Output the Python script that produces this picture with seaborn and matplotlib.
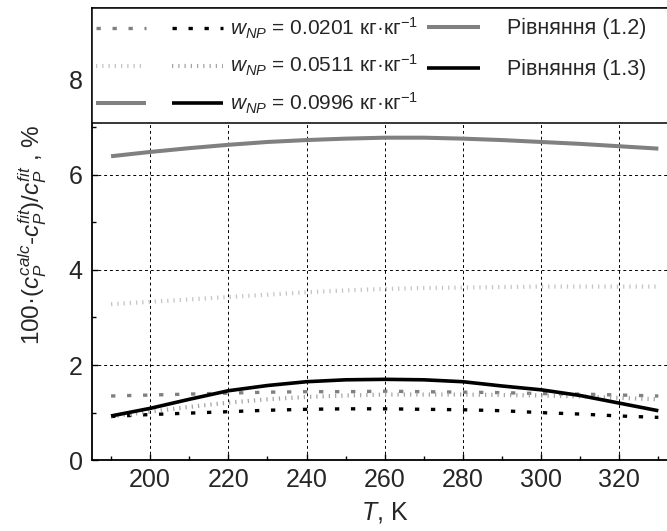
import matplotlib
matplotlib.use("Agg")
import matplotlib.pyplot as plt
import seaborn as sns
import pandas as pd
from matplotlib.lines import Line2D
from matplotlib.legend_handler import HandlerTuple
from matplotlib.ticker import MultipleLocator

# ---------------- data ----------------
T = [190, 200, 210, 220, 230, 240, 250, 260, 270, 280, 290, 300, 310, 320, 330]

# Equation (1.2) – grey curves
eq12_w0201 = [1.35, 1.37, 1.39, 1.41, 1.43, 1.44, 1.44, 1.45, 1.44, 1.43, 1.42, 1.40, 1.39, 1.37, 1.35]
eq12_w0511 = [3.28, 3.33, 3.38, 3.43, 3.48, 3.53, 3.57, 3.60, 3.62, 3.63, 3.64, 3.65, 3.65, 3.65, 3.65]
eq12_w0996 = [6.39, 6.48, 6.56, 6.63, 6.69, 6.73, 6.76, 6.78, 6.78, 6.76, 6.73, 6.69, 6.65, 6.60, 6.55]

# Equation (1.3) – black curves
eq13_w0201 = [0.92, 0.96, 0.99, 1.02, 1.05, 1.07, 1.08, 1.08, 1.07, 1.06, 1.04, 1.00, 0.97, 0.93, 0.90]
eq13_w0511 = [0.92, 1.02, 1.12, 1.21, 1.28, 1.33, 1.36, 1.38, 1.38, 1.38, 1.37, 1.36, 1.34, 1.31, 1.28]
eq13_w0996 = [0.93, 1.09, 1.28, 1.46, 1.57, 1.65, 1.69, 1.70, 1.69, 1.65, 1.56, 1.48, 1.36, 1.20, 1.04]

w_labels = [r"$\mathit{w}_{\mathit{NP}}$ = 0.0201 кг·кг$^{-1}$",
            r"$\mathit{w}_{\mathit{NP}}$ = 0.0511 кг·кг$^{-1}$",
            r"$\mathit{w}_{\mathit{NP}}$ = 0.0996 кг·кг$^{-1}$"]
eq_labels = ["Рівняння (1.2)", "Рівняння (1.3)"]

x_ticks = [200, 220, 240, 260, 280, 300, 320]
y_ticks = [0, 2, 4, 6, 8]

# ---------------- style ----------------
sns.set_style("white")
plt.rcParams["font.family"] = ["Liberation Sans", "DejaVu Sans"]
plt.rcParams["mathtext.fontset"] = "custom"
plt.rcParams["mathtext.rm"] = "Liberation Sans"
plt.rcParams["mathtext.it"] = "Liberation Sans:italic"
plt.rcParams["mathtext.bf"] = "Liberation Sans:bold"

GREY = "#808080"
BLACK = "#000000"
FINE_GREY = "#c4c4c4"
FINE_BLACK = "#a4a4a4"
SQ = (0, (1.3, 3.5))
FINE = (0, (0.3, 1.2))

styles = {
    "eq12_w0201": dict(color=GREY, lw=2.4, ls=SQ),
    "eq13_w0201": dict(color=BLACK, lw=2.4, ls=SQ),
    "eq12_w0511": dict(color=FINE_GREY, lw=3.0, ls=FINE),
    "eq13_w0511": dict(color=FINE_BLACK, lw=3.0, ls=FINE),
    "eq12_w0996": dict(color=GREY, lw=2.9, ls="-"),
    "eq13_w0996": dict(color=BLACK, lw=2.6, ls="-"),
}
series = {
    "eq12_w0201": eq12_w0201, "eq13_w0201": eq13_w0201,
    "eq12_w0511": eq12_w0511, "eq13_w0511": eq13_w0511,
    "eq12_w0996": eq12_w0996, "eq13_w0996": eq13_w0996,
}

W, H = 667, 531
fig = plt.figure(figsize=(W / 100, H / 100), dpi=100)
ax = fig.add_axes([92.3 / W, (H - 460.2) / H, (677.9 - 92.3) / W, (460.2 - 8.3) / H])

for name, vals in series.items():
    st = styles[name]
    df = pd.DataFrame({"T": T, "v": vals})
    sns.lineplot(data=df, x="T", y="v", ax=ax, color=st["color"], linewidth=st["lw"],
                 linestyle=st["ls"], dash_capstyle="butt", solid_capstyle="butt",
                 estimator=None, sort=False, errorbar=None, legend=False, zorder=2)

ax.set_xlim(185.2, 335)
ax.set_ylim(0, 9.5)
ax.set_xticks(x_ticks)
ax.set_yticks(y_ticks)
ax.xaxis.set_minor_locator(MultipleLocator(10))
ax.yaxis.set_minor_locator(MultipleLocator(1))
ax.tick_params(which="both", direction="in", top=False, right=False, left=True, bottom=True,
               color="black", width=1.0)
ax.tick_params(which="major", length=4, labelsize=18)
ax.tick_params(which="minor", length=3)
ax.tick_params(axis="x", pad=5.5)
ax.tick_params(axis="y", pad=7)
ax.grid(True, which="major", color="black", linestyle=(0, (3, 3)), linewidth=0.7)
for s in ["left", "bottom", "top"]:
    ax.spines[s].set_color("black")
    ax.spines[s].set_linewidth(1.3)
ax.spines["right"].set_visible(False)

ax.set_xlabel(r"$\mathit{T}$, K", fontsize=18, labelpad=6)
ax.set_ylabel(r"100·($\mathit{c}_{\mathit{P}}^{\mathit{calc}}$-$\mathit{c}_{\mathit{P}}^{\mathit{fit}}$)/$\mathit{c}_{\mathit{P}}^{\mathit{fit}}$ , %",
              fontsize=17.5, labelpad=14)

# legend box
ax.axhspan(7.09, 9.5, facecolor="white", edgecolor="black", linewidth=1.1, zorder=3)

def h(name):
    st = styles[name]
    return Line2D([], [], color=st["color"], lw=st["lw"], linestyle=st["ls"],
                  dash_capstyle="butt", solid_capstyle="butt")

FSA = 15
fsa_px = FSA * 100 / 72
legA = ax.legend(
    [(h("eq12_w0201"), h("eq13_w0201")), (h("eq12_w0511"), h("eq13_w0511")),
     (h("eq12_w0996"), h("eq13_w0996"))],
    w_labels, loc="upper left", bbox_to_anchor=(95.5 / W, 1 - 16 / H),
    bbox_transform=fig.transFigure, frameon=False, borderpad=0, borderaxespad=0,
    handlelength=127 / fsa_px, handletextpad=7.5 / fsa_px, labelspacing=0.58,
    fontsize=FSA, handler_map={tuple: HandlerTuple(ndivide=None, pad=26 / fsa_px)})
legA.set_zorder(5)
ax.add_artist(legA)

FSB = 15.5
fsb_px = FSB * 100 / 72
legB = ax.legend([h("eq12_w0996"), h("eq13_w0996")], eq_labels, loc="upper left",
                 bbox_to_anchor=(426.8 / W, 1 - 18 / H), bbox_transform=fig.transFigure,
                 frameon=False, borderpad=0, borderaxespad=0,
                 handlelength=53 / fsb_px, handletextpad=27.7 / fsb_px, labelspacing=0.93,
                 fontsize=FSB)
legB.set_zorder(5)

fig.savefig("out.png", dpi=100)
